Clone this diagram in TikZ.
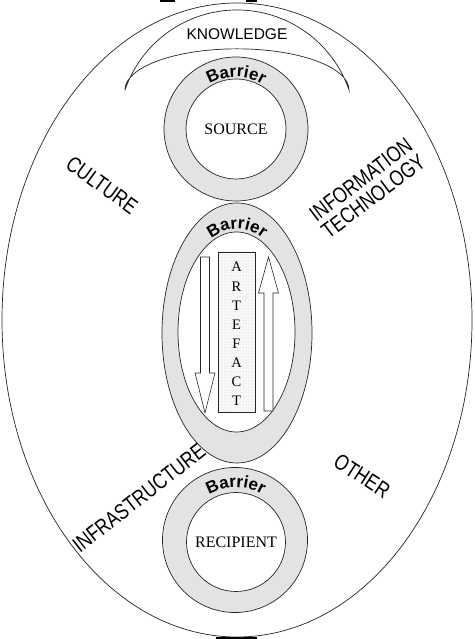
\documentclass[tikz,border=0pt]{standalone}
\usepackage{fontspec}
\setmainfont{Liberation Sans}
\newfontfamily\serifft{Liberation Serif}
\usetikzlibrary{decorations.text,patterns}
\pgfdeclareradialshading{innerglow}{\pgfpoint{0bp}{0bp}}{color(0bp)=(white); color(36bp)=(white); color(50bp)=(gray!24)}
\begin{document}
\begin{tikzpicture}[x=1pt,y=1pt,
  line/.style={draw=black!85, line width=0.7pt},
  ringfill/.style={fill=gray!22},
  lbl/.style={font=\fontsize{22}{21}\selectfont, inner sep=0pt},
  serlbl/.style={font=\serifft\fontsize{16}{16}\selectfont, inner sep=0pt},
  barrier/.style={decorate, decoration={text along path, text align=center,
     text={|\bfseries\fontsize{17}{17}\selectfont|Barrier}}},
  blockarrow/.style={line, fill=white, line width=0.6pt}]
\useasboundingbox (0,0) rectangle (474,639);
\fill[white] (0,0) rectangle (474,639);
% scan marks
\fill[black] (160,637) rectangle (175,639);
\fill[black] (246,637) rectangle (257,639);
\fill[black] (216,0) rectangle (257,2);
% outer ellipse
\draw[line] (237,319) ellipse[x radius=235, y radius=317];
% knowledge crescent
\draw[line, fill=white] (125.05,549.15) arc[start angle=161, end angle=19, radius=118.4]
   arc[start angle=0, end angle=180, x radius=112, y radius=41] -- cycle;
\node[font=\fontsize{15.5}{16}\selectfont, inner sep=0pt] (know) at (237,605) {KNOWLEDGE};
% source ring
\coordinate (srcc) at (236,510);
\fill[ringfill, even odd rule] (srcc) circle[radius=72] (srcc) circle[radius=50];
\draw[line] (srcc) circle[radius=72];
\draw[line] (srcc) circle[radius=50];
\node[serlbl] (source) at (srcc) {SOURCE};
\path[barrier] (191,536) arc[start angle=150, end angle=30, radius=52];
% middle (artefact) ellipse
\coordinate (midc) at (237,306);
\fill[ringfill] (midc) ellipse[x radius=75, y radius=130];
\shade[shading=innerglow] (236.5,307) ellipse[x radius=58.5, y radius=100];
\draw[line] (midc) ellipse[x radius=75, y radius=130];
\draw[line] (236.5,307) ellipse[x radius=58.5, y radius=100];
\path[barrier] (201.44,391.19) arc[start angle=125, end angle=55, x radius=62, y radius=104];
% artefact box
\node[draw=black!85, line width=0.6pt, fill=gray!5, minimum width=37, minimum height=160, inner sep=0pt] (box) at (236.5,307) {};
\fill[pattern=dots, pattern color=gray!45] (218,227) rectangle (255,387);
\draw[black!85, line width=0.6pt] (218,227) rectangle (255,387);
\node[font=\serifft\fontsize{14.5}{19.1}\selectfont, align=center, inner sep=0pt] (artefact) at (236.5,305)
  {A\\R\\T\\E\\F\\A\\C\\T};
% down arrow
\draw[blockarrow] (200.5,382) -- (209.5,382) -- (209.5,266) -- (215,266) -- (205,226) -- (195,266) -- (200.5,266) -- cycle;
% up arrow
\draw[blockarrow] (264,228) -- (273,228) -- (273,346) -- (278.5,346) -- (268.5,382) -- (258.5,346) -- (264,346) -- cycle;
% recipient ring
\fill[ringfill, even odd rule] (235,99) circle[radius=72.5] (236,97) circle[radius=49.5];
\draw[line] (235,99) circle[radius=72.5];
\draw[line] (236,97) circle[radius=49.5];
\node[serlbl] (recipient) at (236,97) {RECIPIENT};
\path[barrier] (189.8,125) arc[start angle=150, end angle=30, radius=53];
% labels
\node[lbl, rotate=-36, xscale=0.8] (culture) at (102,454) {CULTURE};
\node[lbl, rotate=37, xscale=0.8, align=center] (infotech) at (367,451) {INFORMATION\\TECHNOLOGY};
\node[lbl, rotate=38, xscale=0.8] (infra) at (139,141) {INFRASTRUCTURE};
\node[lbl, rotate=-33, xscale=0.8] (other) at (362,163) {OTHER};
\end{tikzpicture}
\end{document}
